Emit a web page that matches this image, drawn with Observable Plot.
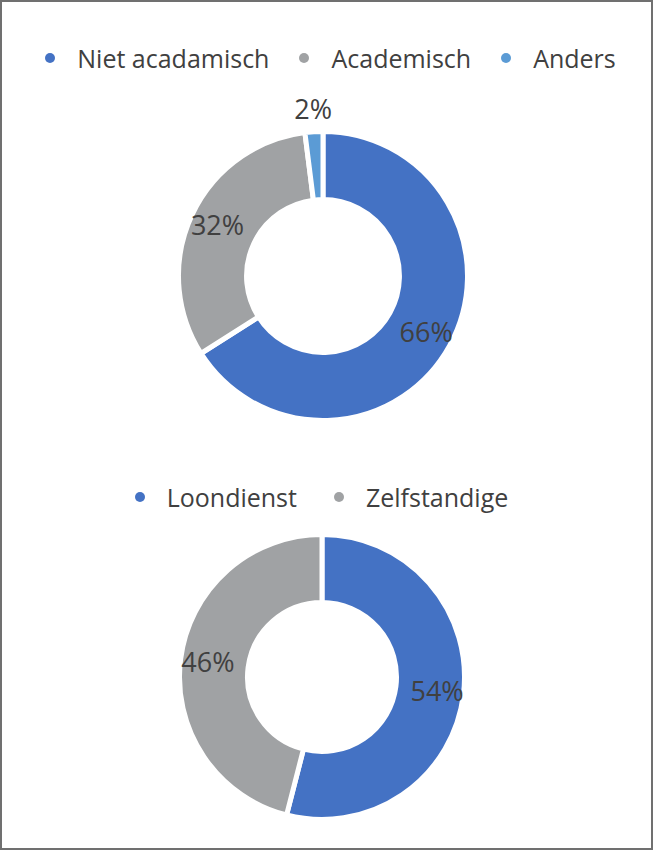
<!DOCTYPE html>
<html>
<head>
<meta charset="utf-8">
<script src="https://cdn.jsdelivr.net/npm/d3@7"></script>
<script src="https://cdn.jsdelivr.net/npm/@observablehq/plot@0.6"></script>
<style>
  html, body { margin: 0; padding: 0; background: #fff; }
  #frame { position: relative; width: 653px; height: 850px; box-sizing: border-box; border: 2px solid #707070; background: #fff; overflow: hidden; font-family: "Open Sans", sans-serif; }
  .legend { position: absolute; left: 0; right: 0; display: flex; justify-content: center; align-items: center; height: 36px; font-size: 25px; color: #404040; }
  .legend .item { display: flex; align-items: center; }
  .legend .dot { width: 10px; height: 10px; border-radius: 50%; margin-right: 22px; }
  .plot { position: absolute; left: 0; }
</style>
</head>
<body>
<div id="frame">
  <div class="legend" id="legend1" style="top:38px; gap:30px; padding-left:8px"></div>
  <div class="plot" id="plot1" style="top:90px"></div>
  <div class="legend" id="legend2" style="top:477px; gap:37px; padding-right:10px"></div>
  <div class="plot" id="plot2" style="top:520px"></div>
</div>
<script>
// ---- data ----
const eduCategories = ["Niet acadamisch", "Academisch", "Anders"];
const eduValues = [66, 32, 2];
const empCategories = ["Loondienst", "Zelfstandige"];
const empValues = [54, 46];
const palette = ["#4472C4", "#A0A2A4", "#5B9BD5"];

function pieData(categories, values) {
  const rows = categories.map((c, i) => ({category: c, value: values[i]}));
  const total = d3.sum(values);
  return d3.pie().sort(null).value(d => d.value)(rows).map(a => {
    const mid = (a.startAngle + a.endAngle) / 2;
    const small = a.data.value / total < 0.05;
    const L = small ? 1.17 : 0.825;
    return {...a, category: a.data.category, value: a.data.value,
      label: a.data.value + "%", lx: L * Math.sin(mid), ly: L * Math.cos(mid)};
  });
}

function donutMark(arcs, inner, colorScale) {
  return (index, scales, values, dimensions, context) => {
    const cx = scales.x(0), cy = scales.y(0);
    const R = scales.x(1) - cx, r = scales.x(inner) - cx;
    const sw = 5;
    const g = d3.create("svg:g").attr("transform", `translate(${cx},${cy})`);
    g.selectAll("path").data(arcs).join("path")
      .attr("d", d3.arc().innerRadius(r - sw / 2).outerRadius(R + sw / 2))
      .attr("fill", d => colorScale.apply(d.category))
      .attr("stroke", "white")
      .attr("stroke-width", sw)
      .attr("stroke-linejoin", "miter");
    return g.node();
  };
}

function legend(el, categories, colorScale) {
  const root = d3.select(el);
  categories.forEach(c => {
    const it = root.append("div").attr("class", "item");
    it.append("div").attr("class", "dot").style("background", colorScale.apply(c));
    it.append("span").text(c);
  });
}

function donut(el, categories, values, opts) {
  const colorScale = Plot.scale({color: {type: "ordinal", domain: categories, range: palette}});
  const arcs = pieData(categories, values);
  const chart = Plot.plot({
    width: 649, height: opts.height,
    margin: 0,
    x: {domain: [-1, 1], range: opts.xRange, axis: null},
    y: {domain: [-1, 1], range: opts.yRange, axis: null},
    style: {fontFamily: "'Open Sans', sans-serif", background: "transparent", overflow: "visible"},
    marks: [
      donutMark(arcs, opts.inner, colorScale),
      Plot.text(arcs, {x: "lx", y: "ly", text: "label", fontSize: 27, fill: "#404040"})
    ]
  });
  document.querySelector(el).appendChild(chart);
  legend(opts.legend, categories, colorScale);
}

donut("#plot1", eduCategories, eduValues, {
  height: 340, xRange: [179, 463], yRange: [326, 42], inner: 0.556, legend: "#legend1"
});
donut("#plot2", empCategories, empValues, {
  height: 320, xRange: [180, 460], yRange: [295, 15], inner: 0.55, legend: "#legend2"
});
</script>
</body>
</html>
